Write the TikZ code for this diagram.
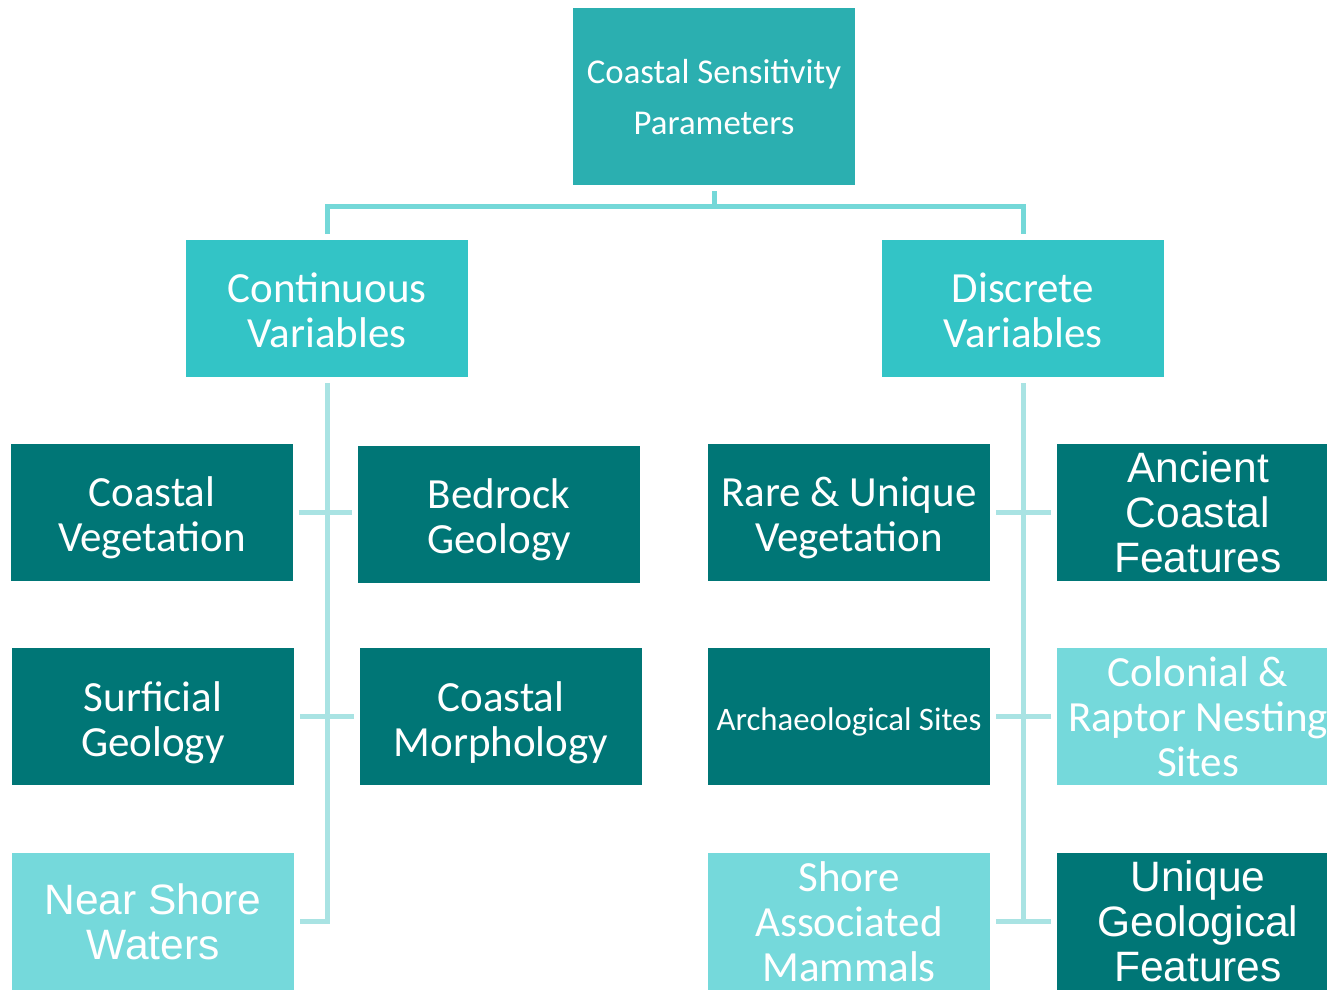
\documentclass[tikz,border=0pt]{standalone}
\usepackage{fontspec}
\setmainfont{Carlito}
\newfontfamily\arialfont{Liberation Sans}
\usetikzlibrary{positioning}
\definecolor{TopTeal}{HTML}{2BAFB0}
\definecolor{MidTeal}{HTML}{33C4C6}
\definecolor{DarkTeal}{HTML}{007676}
\definecolor{LightTeal}{HTML}{75D9DB}
\definecolor{LinkTop}{HTML}{74D8D8}
\definecolor{LinkLow}{HTML}{A9E3E3}

\begin{document}
\begin{tikzpicture}[x=1pt, y=-1pt,
    box/.style={minimum width=282, minimum height=137, inner sep=0, align=center,
      text=white, font=\fontsize{43}{45}\selectfont},
    arialbox/.style={font=\arialfont\fontsize{42.5}{45}\selectfont},
    textrise/.style={text height=#1, text depth=0pt},
    darkbox/.style={box, fill=DarkTeal},
    lightbox/.style={box, fill=LightTeal},
    midbox/.style={box, fill=MidTeal},
    toplink/.style={line width=5pt, LinkTop},
    link/.style={line width=5pt, LinkLow}]
    \useasboundingbox (0,0) rectangle (1327,989);
    \clip (0,0) rectangle (1327,989);

    % Root
    \node[box, fill=TopTeal, minimum height=177, font=\fontsize{34.8}{51}\selectfont, textrise=76pt]
      (root) at (714,96.5) {Coastal Sensitivity\\Parameters};

    % Two groups
    \node[midbox, textrise=77pt] (cont) at (327,308.5) {Continuous\\Variables};
    \node[midbox, textrise=77pt] (disc) at (1023,308.5) {Discrete\\Variables};

    % Continuous variables
    \node[darkbox, textrise=78pt] (cveg) at (152,512.5) {Coastal\\Vegetation};
    \node[darkbox, textrise=78pt] (bedrock) at (499,514.5) {Bedrock\\Geology};
    \node[darkbox, textrise=80pt] (surf) at (153,716.5) {Surficial\\Geology};
    \node[darkbox, textrise=80pt] (morph) at (501,716.5) {Coastal\\Morphology};
    \node[lightbox, arialbox] (nsw) at (153,921.5) {Near Shore\\Waters};

    % Discrete variables
    \node[darkbox, textrise=78pt] (rare) at (849,512.5) {Rare \& Unique\\Vegetation};
    \node[darkbox, arialbox] (ancient) at (1198,512.5) {Ancient\\Coastal\\Features};
    \node[darkbox, font=\fontsize{32.8}{45}\selectfont, textrise=28pt]
      (arch) at (849,716.5) {Archaeological Sites};
    \node[lightbox, textrise=119pt] (colonial) at (1198,716.5) {Colonial \&\\Raptor Nesting\\Sites};
    \node[lightbox, textrise=119pt] (shore) at (849,921.5) {Shore\\Associated\\Mammals};
    \node[darkbox, arialbox] (unique) at (1198,921.5) {Unique\\Geological\\Features};

    % Top connector
    \coordinate (jtop) at (714,206.5);
    \draw[toplink] ([yshift=-6]root.south) -- (root.south |- jtop);
    \draw[toplink] ([yshift=6]cont.north) |- (jtop) -| ([yshift=6]disc.north);

    % Left trunk
    \draw[link] ([yshift=-6]cont.south) |- ([xshift=6]nsw.east);
    \draw[link] ([xshift=6]cveg.east) -- ([xshift=-6]cveg.east -| bedrock.west);
    \draw[link] ([xshift=6]surf.east) -- ([xshift=-6]morph.west);

    % Right trunk
    \draw[link] ([yshift=-6]disc.south) -- (disc.south |- shore.east);
    \draw[link] ([xshift=6]rare.east) -- ([xshift=-6]ancient.west);
    \draw[link] ([xshift=6]arch.east) -- ([xshift=-6]colonial.west);
    \draw[link] ([xshift=6]shore.east) -- ([xshift=-6]unique.west);
  \end{tikzpicture}
\end{document}
